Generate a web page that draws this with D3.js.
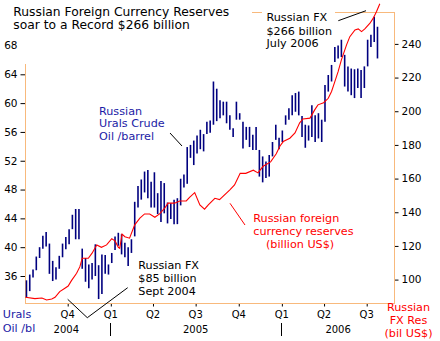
<!DOCTYPE html>
<html><head><meta charset="utf-8">
<script src="https://cdn.jsdelivr.net/npm/d3@7"></script>
<style>body{margin:0;background:#fff} svg{display:block} text{font-family:"DejaVu Sans",Verdana,sans-serif}</style>
</head><body><svg id="c" width="440" height="341"></svg>
<script>
// ---- data ----
const oilWeekStart = "2004-07-05", oilWeekEnd = "2006-07-25";
const oilHigh = [35.4,36.2,36.9,38.7,40.0,41.6,42.1,40.5,38.1,37.2,38.8,40.5,41.4,42.5,44.5,45.3,45.3,39.8,38.5,37.6,
 37.8,40.4,37.5,39.0,38.9,37.6,39.2,41.5,42.0,41.8,40.6,40.0,41.1,46.3,48.5,49.4,50.5,50.7,49.1,50.4,
 47.5,49.2,48.9,46.2,46.1,46.6,46.8,49.5,50.1,53.9,54.2,54.8,55.5,56.3,55.7,57.4,57.6,63.0,62.0,60.4,
 60.2,60.2,58.3,56.5,60.2,58.6,57.4,56.7,56.7,55.6,56.7,53.5,52.6,51.9,52.8,54.6,57.0,55.2,56.2,58.3,
 59.3,61.1,61.4,61.6,58.2,57.0,56.9,59.7,58.3,58.6,57.7,62.5,63.9,65.3,67.8,68.0,68.8,66.7,65.1,64.8,
 64.7,64.8,64.6,65.1,68.8,69.5,72.0,70.6];
const oilLow = [33.0,33.9,35.8,36.8,38.5,39.8,40.1,36.3,35.3,35.5,37.0,38.6,39.7,40.4,42.5,41.1,41.1,37.0,35.2,34.3,
 35.5,36.0,32.8,33.5,36.3,36.2,37.8,39.6,40.2,39.0,38.6,37.4,39.2,41.5,45.5,46.6,47.6,46.8,45.5,45.5,
 44.6,43.5,44.7,43.3,43.9,43.2,43.2,45.8,48.3,48.8,52.4,51.4,53.0,53.6,53.3,55.7,55.9,57.0,57.5,57.9,
 58.3,57.2,56.3,55.3,57.7,57.7,53.7,54.9,53.9,53.5,53.5,49.8,49.0,49.6,49.8,52.6,54.9,53.6,54.6,57.0,
 57.7,58.3,58.8,58.3,55.3,53.8,54.8,55.3,54.6,55.1,54.6,57.4,61.6,63.0,65.7,66.2,66.4,62.3,61.6,61.1,
 60.7,62.1,60.7,62.1,65.1,67.8,68.5,66.2];
const fxDates = ["2004-07-03","2004-07-23","2004-08-07","2004-08-17","2004-08-28","2004-09-04","2004-09-14","2004-09-25",
 "2004-10-02","2004-10-09","2004-10-20","2004-10-27","2004-11-01","2004-11-14","2004-11-22","2004-12-02","2004-12-12",
 "2004-12-23","2005-01-03","2005-01-10","2005-01-17","2005-01-20","2005-01-25","2005-01-31","2005-02-10","2005-02-21",
 "2005-03-04","2005-03-14","2005-03-25","2005-04-05","2005-04-15","2005-04-26","2005-05-03","2005-05-17","2005-05-28",
 "2005-06-11","2005-06-18","2005-06-29","2005-07-10","2005-07-20","2005-07-28","2005-08-11","2005-08-21","2005-09-12",
 "2005-09-22","2005-10-04","2005-10-16","2005-11-01","2005-11-11","2005-11-22","2005-12-08","2005-12-20","2005-12-28",
 "2006-01-04","2006-01-18","2006-01-29","2006-02-08","2006-02-15","2006-03-02","2006-03-12","2006-03-19","2006-03-31",
 "2006-04-10","2006-04-17","2006-04-24","2006-05-01","2006-05-08","2006-05-19","2006-05-26","2006-06-06","2006-06-13",
 "2006-06-20","2006-06-27","2006-07-08","2006-07-15","2006-07-22","2006-07-29"];
const fxValues = [89.5,88.7,89.1,87.9,88.5,89.5,92.9,94.9,
 96.2,99.4,103.8,107.7,112.7,112.7,115.7,120.6,119.2,
 120.6,124.3,123.0,119.2,118.6,127.0,125.5,124.6,132.5,
 136.5,139.0,139.0,137.0,139.0,142.4,145.4,145.4,146.7,
 146.7,148.9,151.7,144.4,141.8,144.4,148.3,147.5,153.3,
 156.2,163.2,163.1,165.0,163.4,167.3,169.9,174.7,179.4,
 182.0,184.0,187.1,193.1,195.4,195.9,200.8,203.8,205.1,
 207.7,211.7,217.6,223.5,230.5,239.4,244.3,248.3,248.9,
 247.3,248.9,252.3,255.3,259.2,263.8];
const leftTicks = [36,40,44,48,52,56,60,64,68];
const rightTicks = [100,120,140,160,180,200,220,240];
const quarterDates = ["2004-10-01","2005-01-01","2005-04-01","2005-07-01","2005-10-01","2006-01-01","2006-04-01","2006-07-01"];
const quarterLabels = ["Q4","Q1","Q2","Q3","Q4","Q1","Q2","Q3"];
const yearLabels = ["2004","2005","2006"];
const yearLabelDates = ["2004-09-28","2005-07-01","2006-05-01"];
const yearSeparators = ["2005-01-01","2006-01-01"];

// ---- drawing ----
const parse = d3.timeParse("%Y-%m-%d");
const svg = d3.select("#c");
const FONT = '"DejaVu Sans",Verdana,sans-serif';
const frameCol = "#F8B97C", navy = "#00007F", red = "#FF0000", blueTxt = "#1C1CA6";
const P = {l:25.5, r:394.5, t:12.5, b:303.5};

const x = d3.scaleTime().domain([parse("2004-10-01"), parse("2006-07-01")]).range([67.7, 366.7]);
const yL = d3.scaleLinear().domain([36,64]).range([276,74.3]);
const yR = d3.scaleLinear().domain([100,240]).range([279.6,43.9]);

svg.append("rect").attr("width",440).attr("height",341).attr("fill","#fff");

// tick marks (under the cover boxes)
const gLt = svg.append("g").attr("transform",`translate(${P.l},0)`)
  .call(d3.axisLeft(yL).tickValues(leftTicks).tickSize(5).tickFormat(""));
gLt.select(".domain").remove();
gLt.selectAll("line").attr("stroke","#000");
const gRt = svg.append("g").attr("transform",`translate(${P.r},0)`)
  .call(d3.axisRight(yR).tickValues(rightTicks).tickSize(4).tickFormat(""));
gRt.select(".domain").remove();
gRt.selectAll("line").attr("stroke","#000");
const gBt = svg.append("g").attr("transform",`translate(0,${P.b})`)
  .call(d3.axisBottom(x).tickValues(quarterDates.map(parse)).tickSize(3).tickFormat(""));
gBt.select(".domain").remove();
gBt.selectAll("line").attr("stroke","#000");

// frame
svg.append("rect").attr("x",P.l).attr("y",P.t).attr("width",P.r-P.l).attr("height",P.b-P.t)
  .attr("fill","none").attr("stroke",frameCol).attr("stroke-width",1);

// white boxes behind title / annotation
svg.append("rect").attr("x",0).attr("y",0).attr("width",252).attr("height",64).attr("fill","#fff");
svg.append("rect").attr("x",262).attr("y",0).attr("width",73).attr("height",50).attr("fill","#fff");

// tick labels
const gL = svg.append("g").attr("transform",`translate(${P.l},0)`)
  .call(d3.axisLeft(yL).tickValues(leftTicks).tickSize(0).tickPadding(8).tickFormat(d3.format("d")));
gL.select(".domain").remove();
gL.attr("font-family",FONT).attr("font-size",10.5).selectAll("text").attr("fill","#000");
const gR = svg.append("g").attr("transform",`translate(${P.r},0)`)
  .call(d3.axisRight(yR).tickValues(rightTicks).tickSize(0).tickPadding(7).tickFormat(d3.format("d")));
gR.select(".domain").remove();
gR.attr("font-family",FONT).attr("font-size",10.5).selectAll("text").attr("fill","#000");

function txt(xp, yc, s, o={}) {
  return svg.append("text").attr("x",xp).attr("y",yc).attr("dy","0.36em")
    .attr("font-size",o.size||11.2).attr("fill",o.fill||"#000")
    .attr("text-anchor",o.anchor||"start").text(s);
}
// quarter labels
quarterDates.forEach((d,i)=> txt(x(parse(d)), 314.3, quarterLabels[i], {size:10, anchor:"middle"}));
yearLabelDates.forEach((d,i)=> txt(x(parse(d)), 329, yearLabels[i], {size:10, anchor:"middle"}));
svg.selectAll(".ysep").data(yearSeparators).enter().append("line")
  .attr("x1",d=>Math.round(x(parse(d)))-0.5).attr("x2",d=>Math.round(x(parse(d)))-0.5)
  .attr("y1",323).attr("y2",336).attr("stroke","#000");

// axis titles
txt(2.7, 314.3, "Urals", {fill:blueTxt, size:11.2});
txt(2.7, 327.7, "Oil /bl", {fill:blueTxt, size:11.2});
txt(408.5, 306.7, "Russian", {fill:red, anchor:"middle"});
txt(408.5, 320, "FX Res", {fill:red, anchor:"middle"});
txt(408.5, 332.7, "(bil US$)", {fill:red, anchor:"middle"});

// title
txt(13.3, 11.7, "Russian Foreign Currency Reserves", {size:12.3});
txt(13.3, 24.2, "soar to a Record $266 billion", {size:12.3});

// annotations
txt(266.5, 16.7, "Russian FX");
txt(266.5, 30.5, "$266 billion");
txt(266.5, 43.3, "July 2006");
txt(138.3, 265, "Russian FX");
txt(138.3, 278.3, "$85 billion");
txt(138.3, 291, "Sept 2004");
txt(99, 110.7, "Russian", {fill:blueTxt});
txt(99, 123.3, "Urals Crude", {fill:blueTxt});
txt(99, 136, "Oil /barrel", {fill:blueTxt});
txt(253.3, 218.3, "Russian foreign", {fill:red});
txt(253.3, 231, "currency reserves", {fill:red});
txt(266, 244, "(billion US$)", {fill:red});

// pointer lines
const ptr = (pts, col) => svg.append("path").attr("d", d3.line()(pts)).attr("fill","none").attr("stroke",col).attr("stroke-width",1);
ptr([[67.7,299.3],[87.3,317.7],[127.7,287.7]], "#000");
ptr([[338.3,20.7],[366,10.7]], "#000");
ptr([[170,133],[182,146]], "#000");
ptr([[230,203.3],[245,225]], red);

// oil bars
const weeks = d3.timeMonday.range(parse(oilWeekStart), parse(oilWeekEnd));
const oil = weeks.map((d,i)=>({d, hi:oilHigh[i], lo:oilLow[i]})).filter(o=>o.hi!=null);
svg.append("g").selectAll("line").data(oil).enter().append("line")
  .attr("x1",o=>x(o.d)).attr("x2",o=>x(o.d))
  .attr("y1",o=>yL(o.hi)).attr("y2",o=>yL(o.lo))
  .attr("stroke",navy).attr("stroke-width",1.6);

// FX reserves line
const fx = fxDates.map((d,i)=>({d:parse(d), v:fxValues[i]}));
svg.append("path").datum(fx)
  .attr("d", d3.line().x(p=>x(p.d)).y(p=>yR(p.v)))
  .attr("fill","none").attr("stroke",red).attr("stroke-width",1.1);
</script></body></html>
